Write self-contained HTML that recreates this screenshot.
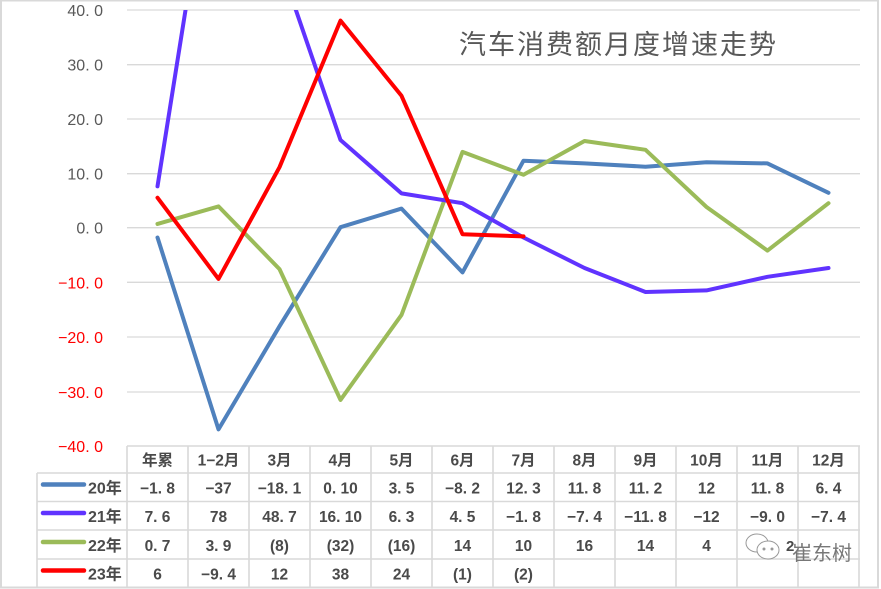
<!DOCTYPE html>
<html><head><meta charset="utf-8"><style>
html,body{margin:0;padding:0;background:#fff;}
svg{display:block;}
.ax{font-family:"Liberation Sans","Noto Sans CJK SC",sans-serif;font-size:16px;text-anchor:end;}
.tb{font-family:"Liberation Sans","Noto Sans CJK SC",sans-serif;font-size:15.5px;font-weight:bold;fill:#4a4a4a;text-anchor:middle;}
.lg{font-family:"Liberation Sans","Noto Sans CJK SC",sans-serif;font-size:16px;font-weight:bold;fill:#4a4a4a;}
</style></head><body>
<svg width="881" height="589" viewBox="0 0 881 589" xmlns="http://www.w3.org/2000/svg">
<rect x="0" y="0" width="881" height="589" fill="#fff"/>
<g stroke="#d9d9d9" stroke-width="1.3">
<line x1="127" y1="10" x2="860" y2="10"/>
<line x1="127" y1="64.7" x2="860" y2="64.7"/>
<line x1="127" y1="119" x2="860" y2="119"/>
<line x1="127" y1="173.7" x2="860" y2="173.7"/>
<line x1="127" y1="227.7" x2="860" y2="227.7"/>
<line x1="127" y1="282.3" x2="860" y2="282.3"/>
<line x1="127" y1="337" x2="860" y2="337"/>
<line x1="127" y1="392" x2="860" y2="392"/>
</g>
<g class="ax">
<text x="103" y="16" fill="#595959">40. 0</text>
<text x="103" y="70.5" fill="#595959">30. 0</text>
<text x="103" y="125" fill="#595959">20. 0</text>
<text x="103" y="179.5" fill="#595959">10. 0</text>
<text x="103" y="233.5" fill="#595959">0. 0</text>
<text x="103" y="288.5" fill="#ff0000">−10. 0</text>
<text x="103" y="343" fill="#ff0000">−20. 0</text>
<text x="103" y="398" fill="#ff0000">−30. 0</text>
<text x="103" y="452" fill="#ff0000">−40. 0</text>
</g>
<text x="459" y="54" font-family="'Noto Sans CJK SC','WenQuanYi Zen Hei',sans-serif" font-size="27" letter-spacing="2" fill="#595959">汽车消费额月度增速走势</text>
<defs><clipPath id="pc"><rect x="120" y="10" width="750" height="440"/></clipPath></defs>
<g clip-path="url(#pc)" fill="none" stroke-width="4" stroke-linejoin="round" stroke-linecap="round">
<polyline stroke="#4f81bd" points="157.5,237.5 218.5,429.4 279.5,326.3 340.5,227.2 401.5,208.6 462.5,272.4 523.5,160.7 584.5,163.4 645.5,166.7 706.5,162.3 767.5,163.4 828.5,192.8"/>
<polyline stroke="#9bbb59" points="157.5,223.9 218.5,206.4 279.5,269.1 340.5,399.9 401.5,314.9 462.5,151.9 523.5,174.8 584.5,141 645.5,149.8 706.5,207 767.5,250.6 828.5,203.2"/>
<polyline stroke="#6033ff" points="157.5,186.3 218.5,-197.4 279.5,-37.7 340.5,140 401.5,193.4 462.5,203.2 523.5,237.5 584.5,268 645.5,292 706.5,290.4 767.5,276.8 828.5,268"/>
<polyline stroke="#ff0000" points="157.5,197.7 218.5,278.9 279.5,167.2 340.5,20.6 401.5,95.8 462.5,234.2 523.5,236.4"/>
</g>
<g stroke="#d9d9d9" stroke-width="1.6" fill="none">
<line x1="127" y1="446" x2="860" y2="446"/>
<line x1="37" y1="473" x2="860" y2="473"/>
<line x1="37" y1="501.5" x2="860" y2="501.5"/>
<line x1="37" y1="530" x2="860" y2="530"/>
<line x1="37" y1="559" x2="860" y2="559"/>
<line x1="37" y1="587.3" x2="860" y2="587.3"/>
<line x1="37" y1="473" x2="37" y2="588"/>
<line x1="127" y1="446" x2="127" y2="588"/>
<line x1="188" y1="446" x2="188" y2="588"/>
<line x1="249" y1="446" x2="249" y2="588"/>
<line x1="310" y1="446" x2="310" y2="588"/>
<line x1="371" y1="446" x2="371" y2="588"/>
<line x1="432" y1="446" x2="432" y2="588"/>
<line x1="493" y1="446" x2="493" y2="588"/>
<line x1="554" y1="446" x2="554" y2="588"/>
<line x1="615" y1="446" x2="615" y2="588"/>
<line x1="676" y1="446" x2="676" y2="588"/>
<line x1="737" y1="446" x2="737" y2="588"/>
<line x1="798" y1="446" x2="798" y2="588"/>
<line x1="859" y1="446" x2="859" y2="588"/>
</g>
<rect x="1" y="0.5" width="877" height="587" fill="none" stroke="#d9d9d9" stroke-width="2"/>
<g class="tb">
<text x="157.5" y="465.5">年累</text><text x="218.5" y="465.5">1−2月</text><text x="279.5" y="465.5">3月</text><text x="340.5" y="465.5">4月</text><text x="401.5" y="465.5">5月</text><text x="462.5" y="465.5">6月</text><text x="523.5" y="465.5">7月</text><text x="584.5" y="465.5">8月</text><text x="645.5" y="465.5">9月</text><text x="706.5" y="465.5">10月</text><text x="767.5" y="465.5">11月</text><text x="828.5" y="465.5">12月</text>
<text x="157.5" y="493.5">−1. 8</text><text x="218.5" y="493.5">−37</text><text x="279.5" y="493.5">−18. 1</text><text x="340.5" y="493.5">0. 10</text><text x="401.5" y="493.5">3. 5</text><text x="462.5" y="493.5">−8. 2</text><text x="523.5" y="493.5">12. 3</text><text x="584.5" y="493.5">11. 8</text><text x="645.5" y="493.5">11. 2</text><text x="706.5" y="493.5">12</text><text x="767.5" y="493.5">11. 8</text><text x="828.5" y="493.5">6. 4</text>
<text x="157.5" y="522">7. 6</text><text x="218.5" y="522">78</text><text x="279.5" y="522">48. 7</text><text x="340.5" y="522">16. 10</text><text x="401.5" y="522">6. 3</text><text x="462.5" y="522">4. 5</text><text x="523.5" y="522">−1. 8</text><text x="584.5" y="522">−7. 4</text><text x="645.5" y="522">−11. 8</text><text x="706.5" y="522">−12</text><text x="767.5" y="522">−9. 0</text><text x="828.5" y="522">−7. 4</text>
<text x="157.5" y="551">0. 7</text><text x="218.5" y="551">3. 9</text><text x="279.5" y="551">(8)</text><text x="340.5" y="551">(32)</text><text x="401.5" y="551">(16)</text><text x="462.5" y="551">14</text><text x="523.5" y="551">10</text><text x="584.5" y="551">16</text><text x="645.5" y="551">14</text><text x="706.5" y="551">4</text>
<text x="157.5" y="579.5">6</text><text x="218.5" y="579.5">−9. 4</text><text x="279.5" y="579.5">12</text><text x="340.5" y="579.5">38</text><text x="401.5" y="579.5">24</text><text x="462.5" y="579.5">(1)</text><text x="523.5" y="579.5">(2)</text>
</g>
<g stroke-width="4.5" stroke-linecap="round">
<line x1="43" y1="484.5" x2="84" y2="484.5" stroke="#4f81bd"/>
<line x1="43" y1="513" x2="84" y2="513" stroke="#6033ff"/>
<line x1="43" y1="542" x2="84" y2="542" stroke="#9bbb59"/>
<line x1="43" y1="570.5" x2="84" y2="570.5" stroke="#ff0000"/>
</g>
<g class="lg">
<text x="88" y="493.5">20年</text>
<text x="88" y="522">21年</text>
<text x="88" y="551">22年</text>
<text x="88" y="579.5">23年</text>
</g>
<g fill="#fff" stroke="#999" stroke-width="1">
<ellipse cx="757" cy="543" rx="11" ry="9" fill="none"/>
<ellipse cx="768" cy="550" rx="11" ry="9"/>
<circle cx="764" cy="549" r="1" fill="#999"/>
<circle cx="772" cy="549" r="1" fill="#999"/>
</g>
<text x="786" y="551" font-family="'Liberation Sans',sans-serif" font-size="15" font-weight="bold" fill="#4a4a4a">2</text>
<text x="792" y="560" font-family="'Noto Sans CJK SC','WenQuanYi Zen Hei',sans-serif" font-size="20" fill="#777">崔东树</text>
</svg>
</body></html>
